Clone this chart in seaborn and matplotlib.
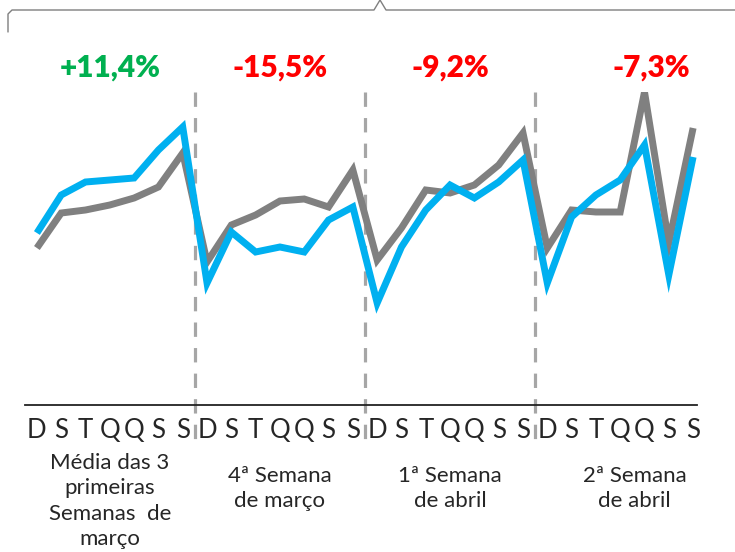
import matplotlib
matplotlib.use("Agg")
import matplotlib.pyplot as plt
import seaborn as sns
import pandas as pd
import numpy as np
from matplotlib.lines import Line2D
import matplotlib.transforms as mtransforms

# ---- data (arbitrary index units) ----
days = ["D", "S", "T", "Q", "Q", "S", "S"] * 4
gray_values = [157, 192, 195, 200, 207, 218, 252,
               143, 180, 190, 204, 206, 198, 235,
               145, 177, 215, 212, 220, 240, 272,
               157, 195, 193, 193, 313, 162, 277]
blue_values = [172, 210, 223, 225, 227, 255, 278,
               122, 173, 153, 158, 153, 185, 198,
               102, 158, 195, 220, 207, 223, 245,
               122, 188, 210, 225, 260, 130, 248]
series_names = ["2019", "2020"]
pct_labels = ["+11,4%", "-15,5%", "-9,2%", "-7,3%"]
pct_colors = ["#00B050", "#FF0000", "#FF0000", "#FF0000"]
group_labels = ["Média das 3\nprimeiras\nSemanas  de\nmarço",
                "4ª Semana\nde março",
                "1ª Semana\nde abril",
                "2ª Semana\nde abril"]

n = len(days)
df = pd.DataFrame({
    "idx": list(range(n)) * 2,
    "valor": gray_values + blue_values,
    "serie": [series_names[0]] * n + [series_names[1]] * n,
})

sns.set_style("white")
plt.rcParams["font.family"] = ["Lato", "DejaVu Sans"]

W, H = 735, 552
fig = plt.figure(figsize=(W / 100, H / 100), dpi=100)
ax_left, ax_right, ax_top, ax_bot = 25, 697, 92, 405
ax = fig.add_axes([ax_left / W, 1 - ax_bot / H, (ax_right - ax_left) / W, (ax_bot - ax_top) / H])

sns.lineplot(data=df, x="idx", y="valor", hue="serie",
             palette={"2019": "#808080", "2020": "#00B0F0"},
             linewidth=5, ax=ax, legend=False)
for l in ax.lines:
    l.set_solid_joinstyle("miter")
    l.set_solid_capstyle("butt")

x0 = -0.49
x1 = 27.16
ax.set_xlim(x0, x1)
ax.set_ylim(0, 313)
ax.set_xlabel("")
ax.set_ylabel("")
ax.set_yticks([])
ax.set_xticks(range(n))
ax.set_xticklabels(days, fontsize=18.5, fontweight="normal", color="#262626")
ax.tick_params(axis="x", length=0, pad=9)
for s in ["top", "right", "left"]:
    ax.spines[s].set_visible(False)
ax.spines["bottom"].set_color("#222222")
ax.spines["bottom"].set_linewidth(1.3)

# dashed separators between weeks
trans = mtransforms.blended_transform_factory(ax.transData, ax.transAxes)
for xs in [6.5, 13.5, 20.5]:
    ax.plot([xs, xs], [1.0, -(445 - 405) / (405 - 92)], transform=trans,
            color="#A6A6A6", linewidth=2.3, linestyle=(0, (4.5, 3.5)),
            clip_on=False, zorder=0)

ftrans = mtransforms.blended_transform_factory(ax.transData, fig.transFigure)

# percentage labels
pct_x = [3, 10, 17, 25.3]
for xp, t, c in zip(pct_x, pct_labels, pct_colors):
    ax.text(xp, 1 - 68 / H, t, transform=ftrans,
            ha="center", va="center", fontsize=21.5, fontweight="heavy", color=c)

# group labels
grp_x = [3, 10, 17, 24.6]
grp_y = [453, 466, 466, 466]
for xg, yg, t in zip(grp_x, grp_y, group_labels):
    ax.text(xg, 1 - yg / H, t, transform=ftrans,
            ha="center", va="top", fontsize=16, fontweight="normal", color="#262626",
            linespacing=1.33)

# top bracket
bx = [8 / W, 8 / W, 12 / W, 374 / W, 380 / W, 386 / W, 1.0]
by = [1 - 32 / H, 1 - 14 / H, 1 - 10 / H, 1 - 10 / H, 1.0, 1 - 10 / H, 1 - 10 / H]
fig.add_artist(Line2D(bx, by, transform=fig.transFigure, color="#7F7F7F", linewidth=1.0))

fig.savefig("out.png", dpi=100)
